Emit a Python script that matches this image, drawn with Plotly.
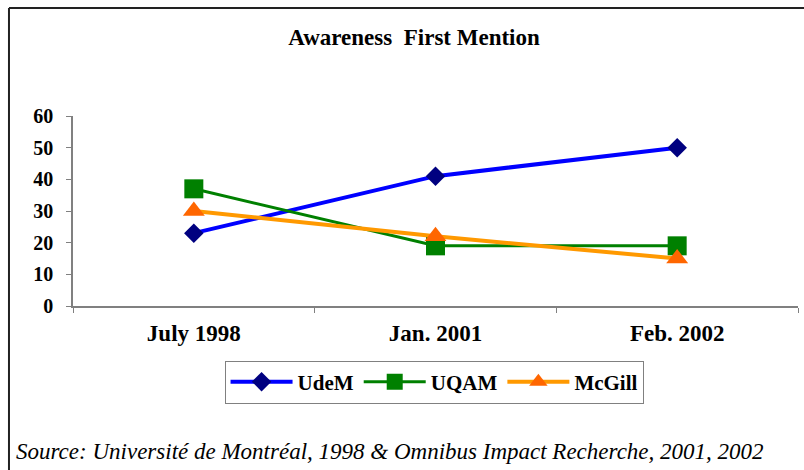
import plotly.graph_objects as go

categories = ["July 1998", "Jan. 2001", "Feb. 2002"]
udem = [23, 41, 50]
uqam = [37, 19, 19]
mcgill = [30, 22, 15]
y_ticks = [0, 10, 20, 30, 40, 50, 60]

FONT = "Liberation Serif"

fig = go.Figure()
fig.add_trace(go.Scatter(
    x=categories, y=udem, name="UdeM", mode="lines+markers",
    line=dict(color="#0000FF", width=4),
    marker=dict(symbol="diamond", size=15, color="#000080"),
))
fig.add_trace(go.Scatter(
    x=categories, y=uqam, name="UQAM", mode="lines+markers",
    line=dict(color="#008000", width=3),
    marker=dict(symbol="square", size=19, color="#008000"),
))
fig.add_trace(go.Scatter(
    x=categories, y=mcgill, name="McGill", mode="lines+markers",
    line=dict(color="#FF9900", width=4),
    marker=dict(symbol="triangle-up", size=19, color="#FF6600"),
))

fig.update_layout(
    width=804, height=470,
    margin=dict(l=73, r=6, t=116, b=164),
    paper_bgcolor="white", plot_bgcolor="white",
    font=dict(family=FONT, size=20, color="black"),
    title=dict(text="<b>Awareness  First Mention</b>", x=0.515, xanchor="center",
               y=1 - 37 / 470, yanchor="middle", yref="container",
               font=dict(family=FONT, size=23, color="black")),
    xaxis=dict(type="category", range=[-0.5, 2.5], showgrid=False,
               showline=True, linecolor="#808080", linewidth=1.5,
               ticks="outside", tickson="boundaries", ticklen=5, tickcolor="#808080",
               tickfont=dict(family=FONT, size=23, color="black", weight="bold"),
               ticklabelstandoff=6),
    yaxis=dict(range=[0, 60], tickvals=y_ticks, showgrid=False, zeroline=False,
               showline=True, linecolor="#808080", linewidth=1.5,
               ticks="outside", ticklen=5, tickcolor="#808080",
               tickfont=dict(family=FONT, size=20, color="black", weight="bold"),
               ticklabelstandoff=9),
    legend=dict(orientation="h", x=0.498, y=-0.40, xanchor="center", yanchor="middle",
                bordercolor="#808080", borderwidth=1, bgcolor="white",
                font=dict(family=FONT, size=21, color="black", weight="bold"),
                itemwidth=62, tracegroupgap=0),
    showlegend=True,
)

# frame lines (top and left) of the original chart area
fig.add_shape(type="line", xref="paper", yref="paper", x0=-0.0883, x1=1.01, y0=1.568, y1=1.568,
              line=dict(color="#222222", width=2))
fig.add_shape(type="line", xref="paper", yref="paper", x0=-0.0883, x1=-0.0883, y0=1.568, y1=-0.9,
              line=dict(color="#222222", width=2))

fig.add_annotation(
    text="<i>Source: Université de Montréal, 1998 & Omnibus Impact Recherche, 2001, 2002</i>",
    xref="paper", yref="paper", x=-0.0814, y=-0.768, xanchor="left", yanchor="middle",
    showarrow=False, font=dict(family=FONT, size=23, color="black"),
)

fig.write_html("out.html", post_script="document.body.style.margin='0';",
               config={"displayModeBar": False})
